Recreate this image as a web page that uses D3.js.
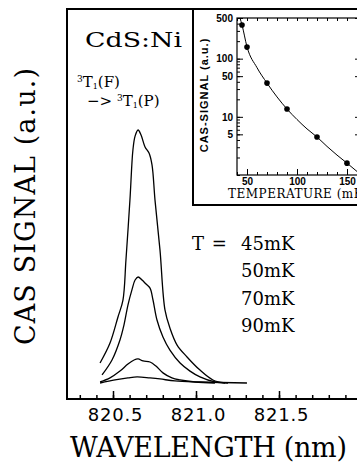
<!DOCTYPE html>
<html>
<head>
<meta charset="utf-8">
<script src="https://cdn.jsdelivr.net/npm/d3@7"></script>
<style>
  body { margin: 0; background: #fff; }
  svg { display: block; }
  .serif { font-family: "DejaVu Serif", serif; fill: #000; }
  .spec { fill: none; stroke: #000; stroke-width: 1.3px; }
</style>
</head>
<body>
<svg id="chart" width="357" height="470"></svg>
<script>
  // main spectra: wavelength (nm) vs CAS signal (a.u.)
  const wl45 = [820.422, 820.482, 820.530, 820.560, 820.578, 820.602, 820.620, 820.633, 820.651, 820.669, 820.693, 820.717, 820.735, 820.753, 820.783, 820.813, 820.843, 820.886, 820.946, 821.024, 821.102, 821.175];
  const sig45 = [7.9, 15.8, 26.1, 32.8, 48.6, 72.3, 92.1, 97.6, 100, 98, 93.3, 90.9, 86.2, 72.3, 52.6, 28.9, 21.7, 15, 10.3, 5.1, 1.2, 0];

  const wl50 = [820.434, 820.494, 820.542, 820.566, 820.590, 820.614, 820.633, 820.651, 820.675, 820.699, 820.723, 820.741, 820.765, 820.801, 820.843, 820.904, 820.964, 821.024, 821.114, 821.193];
  const sig50 = [3.2, 9.1, 17, 22.9, 30.8, 36.8, 40.7, 41.9, 40.7, 39.1, 37.5, 32.8, 24.9, 18.2, 13, 7.9, 4.7, 2.4, 0.4, 0];

  const wl70 = [820.422, 820.482, 820.542, 820.590, 820.627, 820.651, 820.681, 820.723, 820.759, 820.801, 820.855, 820.904, 820.994, 821.114];
  const sig70 = [0.4, 2, 4.7, 7.5, 9.1, 9.5, 8.7, 8.3, 6.7, 4, 2, 1.2, 0.4, 0];

  const wl90 = [820.422, 820.512, 820.590, 820.645, 820.723, 820.783, 820.873, 821.024, 821.307];
  const sig90 = [0, 1.2, 2, 2.4, 2, 1.6, 0.8, 0.4, 0];

  const xMajor = [820.5, 821.0, 821.5];
  const legendTemps = ["45mK", "50mK", "70mK", "90mK"];

  // inset: CAS signal vs temperature (log scale)
  const insetTemps = [45, 50, 70, 90, 120, 150];
  const insetSignal = [380, 158, 38, 13.6, 4.5, 1.6];
  const fitTemps = [43, 45, 50, 60, 70, 80, 90, 100, 110, 120, 130, 140, 150, 160];
  const fitSignal = [500, 380, 160, 70, 38, 22, 13.6, 9, 6.2, 4.5, 3.1, 2.2, 1.6, 1.15];
  const insetYTicks = [5, 10, 50, 100, 500];
  const insetXTicks = [50, 100, 150];

  const svg = d3.select("#chart");

  // main frame geometry
  const fLeft = 67, fTop = 9, fBottom = 399, fRight = 420;

  const x = d3.scaleLinear().domain([820.5, 821.0]).range([113, 196]);
  const y = d3.scaleLinear().domain([0, 100]).range([383, 130]);

  svg.append("rect")
    .attr("x", fLeft).attr("y", fTop)
    .attr("width", fRight - fLeft).attr("height", fBottom - fTop)
    .attr("fill", "none").attr("stroke", "#000").attr("stroke-width", 2);

  // minor ticks every 0.1 nm
  const minor = d3.range(820.3, 822.05, 0.1).map((d) => +d.toFixed(1));
  svg.append("g")
    .attr("transform", `translate(0,${fBottom})`)
    .call(d3.axisBottom(x).tickValues(minor).tickSize(-4).tickFormat(""))
    .call((g) => g.select(".domain").remove())
    .call((g) => g.selectAll("line").attr("stroke-width", 1.5));

  const xAxis = svg.append("g")
    .attr("transform", `translate(0,${fBottom})`)
    .call(d3.axisBottom(x).tickValues(xMajor).tickSize(-8).tickPadding(9).tickFormat(d3.format(".1f")));
  xAxis.select(".domain").remove();
  xAxis.selectAll("line").attr("stroke-width", 1.5);
  xAxis.selectAll("text")
    .attr("font-family", "DejaVu Sans, sans-serif")
    .attr("font-size", 18)
    .attr("letter-spacing", 0.8)
    .attr("dx", 2);

  // spectra
  const line = d3.line()
    .x((d) => x(d[0]))
    .y((d) => y(d[1]))
    .curve(d3.curveCatmullRom.alpha(0.5));

  [[wl45, sig45], [wl50, sig50], [wl70, sig70], [wl90, sig90]].forEach(([w, s]) => {
    svg.append("path")
      .attr("class", "spec")
      .attr("d", line(d3.zip(w, s)));
  });

  // axis titles
  svg.append("text")
    .attr("class", "serif")
    .attr("x", 70).attr("y", 457)
    .attr("font-size", 27)
    .attr("textLength", 277)
    .text("WAVELENGTH (nm)");

  svg.append("text")
    .attr("class", "serif")
    .attr("transform", "translate(35,345) rotate(-90)")
    .attr("font-size", 27)
    .attr("textLength", 277)
    .text("CAS SIGNAL (a.u.)");

  svg.append("text")
    .attr("class", "serif")
    .attr("x", 85).attr("y", 47)
    .attr("font-size", 21)
    .attr("textLength", 97)
    .attr("lengthAdjust", "spacingAndGlyphs")
    .text("CdS:Ni");

  // transition label
  const tr1 = svg.append("text").attr("class", "serif").attr("x", 77).attr("y", 87).attr("font-size", 15);
  tr1.append("tspan").attr("font-size", 9).attr("dy", -5).text("3");
  tr1.append("tspan").attr("dy", 5).text("T");
  tr1.append("tspan").attr("font-size", 8).attr("dy", 2).text("1");
  tr1.append("tspan").attr("dy", -2).text("(F)");

  const tr2 = svg.append("text").attr("class", "serif").attr("x", 87).attr("y", 106).attr("font-size", 15);
  tr2.append("tspan").text("−> ");
  tr2.append("tspan").attr("font-size", 9).attr("dy", -5).text("3");
  tr2.append("tspan").attr("dy", 5).text("T");
  tr2.append("tspan").attr("font-size", 8).attr("dy", 2).text("1");
  tr2.append("tspan").attr("dy", -2).text("(P)");

  // temperature legend
  svg.append("text")
    .attr("class", "serif")
    .attr("x", 192).attr("y", 250)
    .attr("font-size", 18)
    .attr("letter-spacing", 1)
    .text("T =");
  svg.append("g")
    .selectAll("text")
    .data(legendTemps)
    .join("text")
    .attr("class", "serif")
    .attr("x", 241)
    .attr("y", (d, i) => 250 + i * 27.3)
    .attr("font-size", 18)
    .text((d) => d);

  // ---- inset ----
  svg.append("rect")
    .attr("x", 193).attr("y", fTop)
    .attr("width", fRight - 193).attr("height", 205 - fTop)
    .attr("fill", "#fff").attr("stroke", "#000").attr("stroke-width", 2);

  const ix = d3.scaleLinear().domain([40, 163]).range([237, 360]);
  const iy = d3.scaleLog().domain([1, 500]).range([175, 18]);

  svg.append("rect")
    .attr("x", ix(40)).attr("y", iy(500))
    .attr("width", ix(163) - ix(40)).attr("height", iy(1) - iy(500))
    .attr("fill", "none").attr("stroke", "#000").attr("stroke-width", 1.2);

  // inset log minor ticks
  const logMinor = [];
  [1, 10, 100].forEach((dec) => d3.range(1, 10).forEach((m) => { if (m * dec <= 500) logMinor.push(m * dec); }));
  svg.append("g")
    .attr("transform", `translate(${ix(40)},0)`)
    .call(d3.axisLeft(iy).tickValues(logMinor).tickSize(-3).tickFormat(""))
    .call((g) => g.select(".domain").remove());

  const iyAxis = svg.append("g")
    .attr("transform", `translate(${ix(40)},0)`)
    .call(d3.axisLeft(iy).tickValues(insetYTicks).tickSize(-6).tickPadding(4).tickFormat(d3.format("d")));
  iyAxis.select(".domain").remove();
  iyAxis.selectAll("text")
    .attr("font-family", "Liberation Sans, sans-serif")
    .attr("font-weight", "bold")
    .attr("font-size", 10);

  svg.append("g")
    .attr("transform", `translate(${ix(163)},0)`)
    .call(d3.axisRight(iy).tickValues(insetYTicks).tickSize(-5).tickFormat(""))
    .call((g) => g.select(".domain").remove());

  const tMinor = d3.range(40, 161, 10);
  svg.append("g")
    .attr("transform", `translate(0,${iy(1)})`)
    .call(d3.axisBottom(ix).tickValues(tMinor).tickSize(-3).tickFormat(""))
    .call((g) => g.select(".domain").remove());
  svg.append("g")
    .attr("transform", `translate(0,${iy(500)})`)
    .call(d3.axisTop(ix).tickValues(tMinor).tickSize(-3).tickFormat(""))
    .call((g) => g.select(".domain").remove());

  const ixAxis = svg.append("g")
    .attr("transform", `translate(0,${iy(1)})`)
    .call(d3.axisBottom(ix).tickValues(insetXTicks).tickSize(-6).tickPadding(3));
  ixAxis.select(".domain").remove();
  ixAxis.selectAll("text")
    .attr("font-family", "Liberation Sans, sans-serif")
    .attr("font-weight", "bold")
    .attr("font-size", 10);

  svg.append("text")
    .attr("class", "serif")
    .attr("x", 228).attr("y", 198)
    .attr("font-size", 12)
    .attr("letter-spacing", 0.5)
    .text("TEMPERATURE (mK)");

  svg.append("text")
    .attr("transform", "translate(208,95) rotate(-90)")
    .attr("text-anchor", "middle")
    .attr("font-family", "Liberation Sans, sans-serif")
    .attr("font-weight", "bold")
    .attr("font-size", 11)
    .attr("letter-spacing", 1)
    .text("CAS-SIGNAL (a.u.)");

  const fit = d3.line()
    .x((d) => ix(d[0]))
    .y((d) => iy(d[1]))
    .curve(d3.curveMonotoneX);
  svg.append("path")
    .attr("d", fit(d3.zip(fitTemps, fitSignal)))
    .attr("fill", "none").attr("stroke", "#000").attr("stroke-width", 1);

  svg.append("g")
    .selectAll("circle")
    .data(d3.zip(insetTemps, insetSignal))
    .join("circle")
    .attr("cx", (d) => ix(d[0]))
    .attr("cy", (d) => iy(d[1]))
    .attr("r", 2.8)
    .attr("fill", "#000");
</script>
</body>
</html>
